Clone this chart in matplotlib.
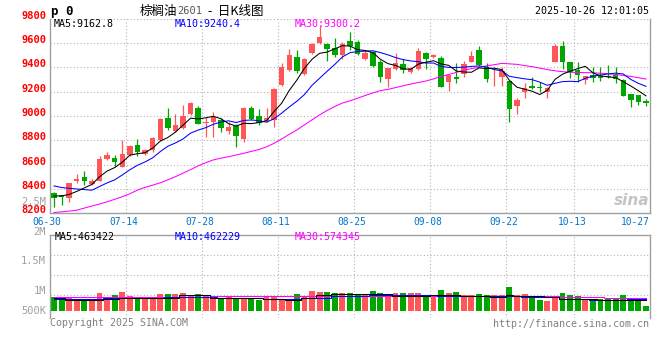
import matplotlib.pyplot as plt
import numpy as np

plt.rcParams['font.family'] = ['DejaVu Sans Mono', 'Noto Sans CJK SC']

# daily candles, 06-30 .. 10-24 (79 trading days)
opens = [8369, 8347, 8328, 8468, 8501, 8441, 8468, 8644, 8657, 8583,
         8679, 8761, 8687, 8719, 8802, 8986, 8879, 8898, 9018, 9068,
         8940, 8953, 8967, 8879, 8918, 8808, 9068, 9000, 8958, 8967,
         9254, 9378, 9482, 9345, 9520, 9597, 9591, 9556, 9501, 9618,
         9610, 9468, 9528, 9446, 9301, 9382, 9427, 9363, 9382, 9515,
         9487, 9474, 9281, 9322, 9345, 9441, 9542, 9405, 9316, 9322,
         9285, 9084, 9194, 9244, 9237, 9200, 9446, 9575, 9441, 9378,
         9295, 9336, 9331, 9322, 9336, 9295, 9180, 9172, 9123]
highs = [8377, 8350, 8451, 8523, 8548, 8480, 8671, 8700, 8679, 8802,
         8760, 8811, 8730, 8825, 8980, 9068, 9016, 9090, 9115, 9080,
         8994, 9030, 8985, 8950, 8930, 9076, 9080, 9055, 9063, 9232,
         9437, 9548, 9542, 9474, 9600, 9739, 9597, 9638, 9610, 9692,
         9625, 9542, 9536, 9460, 9396, 9515, 9465, 9405, 9556, 9523,
         9510, 9490, 9336, 9433, 9454, 9533, 9575, 9433, 9400, 9400,
         9290, 9150, 9268, 9318, 9281, 9240, 9590, 9615, 9445, 9441,
         9330, 9400, 9400, 9419, 9400, 9300, 9180, 9172, 9137]
lows = [8249, 8268, 8295, 8451, 8433, 8430, 8465, 8638, 8578, 8578,
        8670, 8667, 8680, 8705, 8795, 8884, 8870, 8890, 9010, 8934,
        8824, 8830, 8870, 8850, 8742, 8790, 8965, 8926, 8953, 8912,
        9250, 9370, 9350, 9336, 9510, 9591, 9454, 9487, 9465, 9542,
        9500, 9460, 9405, 9276, 9240, 9378, 9350, 9350, 9375, 9382,
        9480, 9240, 9205, 9268, 9318, 9441, 9410, 9281, 9249, 9249,
        8948, 9014, 9150, 9225, 9194, 9150, 9440, 9386, 9309, 9276,
        9260, 9276, 9290, 9310, 9268, 9160, 9076, 9090, 9084]
closes = [8323, 8333, 8446, 8479, 8465, 8465, 8646, 8679, 8624, 8687,
          8753, 8706, 8719, 8816, 8972, 8903, 8925, 9002, 9109, 8934,
          8953, 8989, 8898, 8912, 8835, 9068, 8972, 8944, 8981, 9221,
          9405, 9501, 9369, 9465, 9591, 9651, 9550, 9501, 9591, 9575,
          9509, 9515, 9413, 9318, 9396, 9433, 9378, 9391, 9533, 9468,
          9501, 9240, 9336, 9301, 9427, 9492, 9419, 9304, 9320, 9369,
          9055, 9131, 9227, 9232, 9233, 9232, 9575, 9441, 9359, 9336,
          9328, 9309, 9314, 9318, 9304, 9164, 9131, 9118, 9106]

ma5 = [8342, 8343, 8355, 8380, 8409, 8438, 8500, 8547, 8576, 8620,
       8678, 8690, 8698, 8736, 8793, 8823, 8867, 8924, 8982, 8975,
       8985, 8997, 8977, 8937, 8917, 8940, 8937, 8946, 8960, 9037,
       9105, 9210, 9295, 9392, 9466, 9515, 9525, 9552, 9577, 9574,
       9545, 9538, 9521, 9466, 9430, 9415, 9388, 9383, 9426, 9441,
       9454, 9427, 9416, 9369, 9361, 9359, 9395, 9389, 9392, 9381,
       9293, 9236, 9220, 9203, 9176, 9211, 9300, 9343, 9368, 9389,
       9408, 9355, 9329, 9321, 9315, 9282, 9246, 9207, 9165]
ma10 = [8425, 8412, 8405, 8400, 8395, 8390, 8420, 8450, 8475, 8515,
        8558, 8595, 8622, 8656, 8707, 8751, 8778, 8811, 8859, 8884,
        8904, 8932, 8950, 8960, 8946, 8963, 8967, 8961, 8949, 8977,
        9023, 9074, 9121, 9176, 9252, 9310, 9368, 9424, 9485, 9520,
        9530, 9532, 9536, 9521, 9502, 9480, 9463, 9452, 9446, 9435,
        9435, 9407, 9399, 9398, 9401, 9407, 9411, 9402, 9381, 9371,
        9326, 9315, 9305, 9298, 9278, 9252, 9268, 9282, 9285, 9282,
        9309, 9327, 9336, 9345, 9352, 9345, 9300, 9268, 9243]
ma30 = [8206, 8212, 8218, 8226, 8243, 8260, 8276, 8295, 8315, 8336,
        8361, 8391, 8413, 8431, 8451, 8475, 8501, 8530, 8559, 8590,
        8616, 8639, 8653, 8665, 8679, 8693, 8709, 8724, 8746, 8775,
        8811, 8849, 8885, 8927, 8968, 9009, 9046, 9078, 9106, 9124,
        9146, 9168, 9189, 9208, 9218, 9233, 9248, 9262, 9275, 9287,
        9304, 9324, 9341, 9358, 9376, 9389, 9400, 9412, 9421, 9432,
        9428, 9424, 9414, 9405, 9393, 9381, 9371, 9364, 9359, 9358,
        9356, 9355, 9351, 9347, 9341, 9333, 9325, 9314, 9303]

# volume in thousands
volume = [630, 525, 555, 525, 525, 525, 810, 525, 705, 840,
          660, 600, 615, 585, 750, 765, 765, 810, 690, 765,
          675, 630, 570, 675, 555, 570, 570, 495, 600, 630,
          480, 510, 750, 660, 885, 855, 840, 795, 795, 795,
          735, 735, 885, 795, 690, 795, 795, 795, 795, 705,
          690, 930, 795, 840, 690, 690, 750, 705, 690, 690,
          1065, 690, 750, 660, 480, 435, 570, 795, 690, 660,
          525, 435, 525, 525, 570, 705, 570, 525, 210]
vol_ma5 = [555, 555, 495, 495, 495, 495, 495, 525, 525, 585,
           585, 585, 585, 585, 585, 570, 570, 690, 690, 690,
           690, 570, 570, 570, 555, 555, 555, 555, 540, 540,
           540, 465, 465, 570, 570, 690, 690, 735, 735, 735,
           735, 735, 735, 735, 735, 675, 675, 675, 675, 675,
           720, 720, 720, 720, 675, 675, 675, 675, 615, 615,
           690, 675, 675, 675, 675, 615, 615, 525, 525, 525,
           525, 525, 465, 465, 465, 465, 480, 480, 480]
vol_ma10 = [525, 525, 525, 525, 525, 525, 525, 555, 555, 555,
            555, 555, 555, 555, 555, 600, 600, 600, 600, 600,
            600, 600, 585, 585, 585, 585, 585, 585, 510, 510,
            510, 510, 510, 585, 585, 585, 585, 660, 660, 660,
            660, 660, 720, 720, 720, 720, 720, 720, 720, 690,
            690, 675, 675, 675, 675, 675, 675, 675, 675, 645,
            645, 645, 630, 630, 630, 630, 630, 540, 540, 540,
            540, 495, 495, 495, 495, 495, 510, 510, 510]
vol_ma30 = [630] * 21 + [645] * 16 + [660] * 12 + [675] * 12 + [660] * 6 + [630] * 6 + [585] * 6

dates = ["06-30", "07-14", "07-28", "08-11", "08-25", "09-08", "09-22", "10-13", "10-27"]
date_pos = [0, 10, 20, 30, 40, 50, 60, 69, 79]

RED = '#ff5757'
GREEN = '#00a600'
GRID = '#b4b4b4'
BORDER = '#a0a0a0'

W, H = 660, 360


def fx(x):
    return x / W


def fy(y):
    return 1 - y / H


fig = plt.figure(figsize=(6.6, 3.6), dpi=100)
fig.patch.set_facecolor('white')

n = len(closes)
idx = np.arange(n)
o = np.array(opens)
c = np.array(closes)
up = c >= o
colors = [RED if u else GREEN for u in up]

# ---------- price panel
ax = fig.add_axes([fx(50.2), fy(213.3), fx(649.8) - fx(50.2), fy(18.6) - fy(213.3)])
ax.set_xlim(-0.5, n - 0.5)
ax.set_ylim(8200, 9800)
for y in range(8400, 9801, 200):
    ax.axhline(y, color=GRID, lw=0.8, ls=(0, (1, 2)), zorder=0)
for p in date_pos[1:-1]:
    ax.axvline(p - 0.5, color=GRID, lw=0.8, ls=(0, (1, 2)), zorder=0)

ax.vlines(idx, lows, highs, colors=colors, lw=0.9, zorder=2)
body_lo = np.minimum(o, c)
body_h = np.maximum(np.abs(c - o), 8)
ax.bar(idx, body_h, bottom=body_lo, width=0.72, color=colors, lw=0, zorder=3)

ax.plot(idx, ma30, color='#ff00ff', lw=0.75, zorder=4)
ax.plot(idx, ma10, color='#0000ff', lw=0.75, zorder=4)
ax.plot(idx, ma5, color='black', lw=0.75, zorder=4)

ax.set_yticks(range(8200, 9801, 200))
ax.set_yticklabels([str(v) for v in range(8200, 9801, 200)], color='#ff0000',
                   fontsize=7.5, fontweight='bold')
for lbl in ax.get_yticklabels():
    lbl.set_verticalalignment('baseline')
ax.tick_params(axis='y', length=0, pad=3)
ax.set_xticks([])
for s in ['left', 'right', 'bottom']:
    ax.spines[s].set_color(BORDER)
    ax.spines[s].set_linewidth(1)
ax.spines['top'].set_visible(False)

for lab, p in zip(dates, date_pos):
    if p == 0:
        ax.text(-0.97, -0.045, lab, transform=ax.get_xaxis_transform(),
                ha='center', va='center', color='#0077cc', fontsize=6.9)
    elif p == n:
        ax.text(p - 0.5, -0.045, lab, transform=ax.get_xaxis_transform(),
                ha='right', va='center', color='#0077cc', fontsize=6.9)
    else:
        ax.text(p - 0.75, -0.045, lab, transform=ax.get_xaxis_transform(),
                ha='center', va='center', color='#0077cc', fontsize=6.9)

ax.text(1.0, 0.065, 'sina', transform=ax.transAxes, ha='right', va='center',
        fontsize=11, fontstyle='italic', fontweight='bold', color='#c4c4c4',
        family='DejaVu Sans')

# ---------- volume panel
axv = fig.add_axes([fx(50.2), fy(318.3), fx(649.8) - fx(50.2), fy(235) - fy(318.3)])
axv.set_xlim(-0.5, n - 0.5)
axv.set_ylim(-342, 3407)
for y in [693, 1593, 2493]:
    axv.axhline(y, color=GRID, lw=0.8, ls=(0, (1, 2)), zorder=0)
for p in date_pos[1:-1]:
    axv.axvline(p - 0.5, color=GRID, lw=0.8, ls=(0, (1, 2)), zorder=0)
axv.bar(idx, volume, width=0.78, color=colors, lw=0, zorder=2)
axv.plot(idx, vol_ma30, color='#ff00ff', lw=0.75, drawstyle='steps-mid', zorder=3)
axv.plot(idx, vol_ma10, color='#0000ff', lw=0.75, drawstyle='steps-mid', zorder=3)
axv.plot(idx, vol_ma5, color='black', lw=0.75, drawstyle='steps-mid', zorder=3)
axv.set_xticks([])
axv.set_yticks([])
for s in ['left', 'right', 'top']:
    axv.spines[s].set_color(BORDER)
    axv.spines[s].set_linewidth(1)
axv.spines['bottom'].set_visible(False)

# volume axis labels as drawn by the source
for lab, y in [('2.5M', 201.7), ('2M', 231.7), ('1.5M', 261), ('1M', 291), ('500K', 310.5)]:
    fig.text(fx(46), fy(y), lab, ha='right', va='center', color='#a0a0a0', fontsize=7.5)

# ---------- header texts
fig.text(fx(51), fy(11), 'p 0', ha='left', va='center', color='black',
         fontsize=9, fontweight='bold')
fig.text(fx(140), fy(11), '棕榈油', ha='left', va='center', color='black',
         fontsize=9, family=['Noto Sans CJK SC', 'DejaVu Sans'])
fig.text(fx(177), fy(11), '2601', ha='left', va='center', color='#555555', fontsize=7.5)
fig.text(fx(208), fy(11), '-  日K线图', ha='left', va='center', color='black',
         fontsize=9, family=['Noto Sans CJK SC', 'DejaVu Sans'])
fig.text(fx(649), fy(11.5), '2025-10-26 12:01:05', ha='right', va='center',
         color='black', fontsize=7.2)

fig.text(fx(53.5), fy(24), 'MA5:9162.8', ha='left', va='center', color='black', fontsize=7.2)
fig.text(fx(175), fy(24), 'MA10:9240.4', ha='left', va='center', color='#0000ff', fontsize=7.2)
fig.text(fx(295), fy(24), 'MA30:9300.2', ha='left', va='center', color='#ff00ff', fontsize=7.2)

fig.text(fx(54.5), fy(237.5), 'MA5:463422', ha='left', va='center', color='black', fontsize=7.2)
fig.text(fx(175), fy(237.5), 'MA10:462229', ha='left', va='center', color='#0000ff', fontsize=7.2)
fig.text(fx(295), fy(237.5), 'MA30:574345', ha='left', va='center', color='#ff00ff', fontsize=7.2)

fig.text(fx(50), fy(323.5), 'Copyright 2025 SINA.COM', ha='left', va='center',
         color='#808080', fontsize=7.2)
fig.text(fx(649), fy(324), 'http://finance.sina.com.cn', ha='right', va='center',
         color='#808080', fontsize=7.2)

fig.savefig('out.png', dpi=100, facecolor='white')
